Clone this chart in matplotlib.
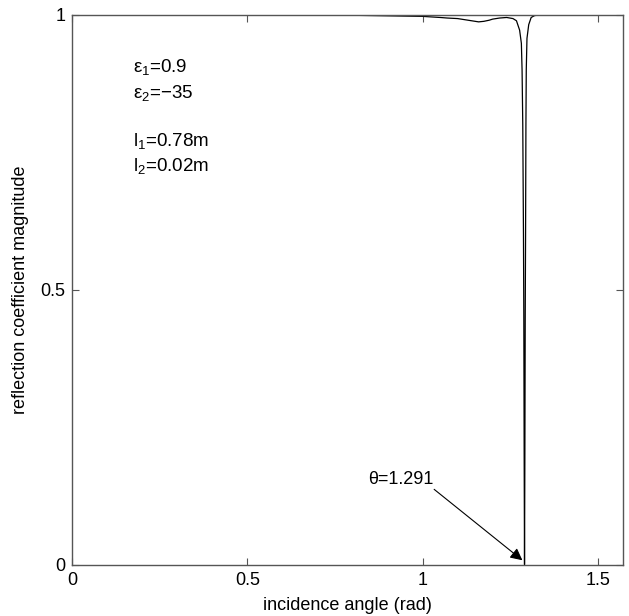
import numpy as np
import matplotlib
matplotlib.use("Agg")
import matplotlib.pyplot as plt

plt.rcParams['font.family'] = ['Liberation Sans', 'DejaVu Sans']
plt.rcParams['mathtext.fontset'] = 'custom'
plt.rcParams['mathtext.rm'] = 'Liberation Sans'
plt.rcParams['mathtext.it'] = 'Liberation Sans'

# incidence angle (rad) and reflection coefficient magnitude
angle = [0.0, 0.2, 0.4, 0.6, 0.8, 0.9, 1.0, 1.05, 1.07, 1.10, 1.115, 1.13,
         1.145, 1.16, 1.175, 1.19, 1.20, 1.22, 1.24, 1.258, 1.268, 1.277,
         1.282, 1.284, 1.286, 1.288, 1.289, 1.290, 1.291, 1.292, 1.293,
         1.294, 1.295, 1.296, 1.298, 1.303, 1.310, 1.320, 1.343, 1.40, 1.5708]
refl = [1.0, 1.0, 1.0, 0.9995, 0.999, 0.998, 0.997, 0.995, 0.994, 0.993,
        0.9915, 0.990, 0.9885, 0.987, 0.988, 0.990, 0.992, 0.994, 0.995,
        0.993, 0.989, 0.972, 0.948, 0.90, 0.80, 0.60, 0.45, 0.20, 0.0, 0.20,
        0.45, 0.60, 0.80, 0.90, 0.957, 0.982, 0.995, 0.9985, 1.0, 1.0, 1.0]

params = [r'ε$_1$=0.9', r'ε$_2$=−35', r'l$_1$=0.78m', r'l$_2$=0.02m']
param_y = [0.896, 0.849, 0.762, 0.716]

fig = plt.figure(figsize=(6.29, 6.16), dpi=100)
ax = fig.add_axes([0.115, 0.0833, 0.8747, 0.8928])

ax.plot(angle, refl, color='black', linewidth=0.9)

ax.set_xlim(0, np.pi / 2)
ax.set_ylim(0, 1)
ax.set_xticks([0, 0.5, 1, 1.5])
ax.set_xticklabels(['0', '0.5', '1', '1.5'])
ax.set_yticks([0, 0.5, 1])
ax.set_yticklabels(['0', '0.5', '1'])
ax.tick_params(direction='in', length=5, width=0.8, color='#555555',
               labelsize=13, top=True, right=True)
ax.tick_params(axis='x', pad=5)
ax.tick_params(axis='y', pad=5)
for s in ax.spines.values():
    s.set_color('#555555')
    s.set_linewidth(1.0)

ax.set_xlabel('incidence angle (rad)', fontsize=13, labelpad=6)
ax.set_ylabel('reflection coefficient magnitude', fontsize=13, labelpad=8)

for txt, yy in zip(params, param_y):
    ax.text(0.110, yy, txt, transform=ax.transAxes, fontsize=13.5,
            ha='left', va='baseline')

ax.text(1.030, 0.147, 'θ=1.291', fontsize=13, ha='right', va='baseline')
ax.annotate('', xy=(1.285, 0.008), xytext=(1.033, 0.137),
            arrowprops=dict(arrowstyle='-|>', color='black', lw=0.8,
                            mutation_scale=18, shrinkA=0, shrinkB=0))

fig.savefig('out.png', dpi=100)
